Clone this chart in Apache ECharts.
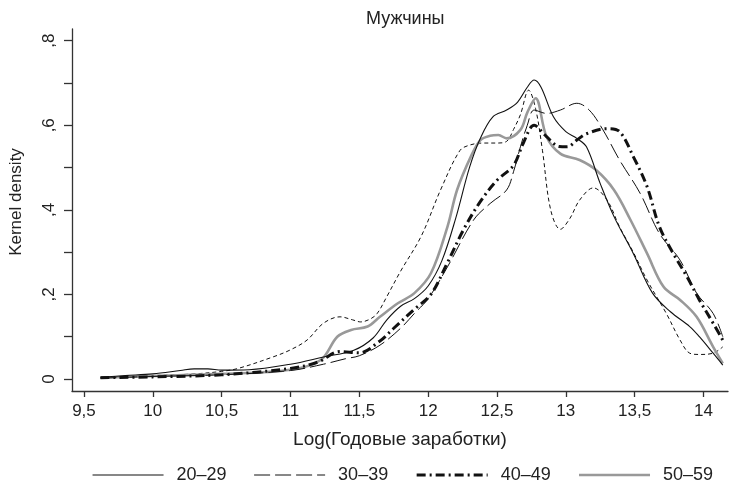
<!DOCTYPE html>
<html>
<head>
<meta charset="utf-8">
<script src="https://cdn.jsdelivr.net/npm/echarts@6/dist/echarts.min.js"></script>
<style>
  html, body { margin: 0; padding: 0; background: #fff; }
  #chart { width: 729px; height: 496px; }
</style>
</head>
<body>
<div id="chart"></div>
<script>
// Kernel density estimates of log annual earnings, men, by age group

const x2029 = [9.62, 9.8, 10.0, 10.2, 10.3, 10.4, 10.5, 10.7, 11.0, 11.24, 11.46, 11.6, 11.7, 11.8, 11.9, 12.0, 12.1, 12.2, 12.3, 12.38, 12.47, 12.57, 12.65, 12.72, 12.77, 12.82, 12.91, 13.0, 13.08, 13.15, 13.25, 13.35, 13.49, 13.63, 13.76, 13.9, 13.97, 14.07, 14.14];
const y2029 = [0.004, 0.008, 0.012, 0.02, 0.024, 0.024, 0.021, 0.022, 0.035, 0.052, 0.068, 0.097, 0.14, 0.172, 0.19, 0.22, 0.28, 0.38, 0.5, 0.57, 0.62, 0.636, 0.655, 0.69, 0.707, 0.69, 0.62, 0.585, 0.569, 0.549, 0.462, 0.384, 0.297, 0.203, 0.159, 0.124, 0.1, 0.061, 0.033];

const x3039 = [9.62, 10.0, 10.5, 11.0, 11.24, 11.4, 11.5, 11.65, 11.8, 11.9, 12.0, 12.14, 12.33, 12.45, 12.57, 12.62, 12.67, 12.72, 12.77, 12.86, 12.96, 13.08, 13.17, 13.27, 13.39, 13.54, 13.68, 13.83, 13.95, 14.07, 14.14];
const y3039 = [0.002, 0.006, 0.01, 0.02, 0.035, 0.048, 0.055, 0.08, 0.12, 0.155, 0.19, 0.265, 0.376, 0.415, 0.447, 0.49, 0.549, 0.6, 0.636, 0.628, 0.636, 0.652, 0.636, 0.589, 0.518, 0.439, 0.344, 0.281, 0.203, 0.155, 0.1];

const x4049 = [9.62, 10.0, 10.5, 11.0, 11.2, 11.36, 11.5, 11.65, 11.75, 11.9, 12.02, 12.14, 12.26, 12.38, 12.5, 12.62, 12.69, 12.77, 12.86, 12.95, 13.01, 13.08, 13.15, 13.3, 13.39, 13.49, 13.59, 13.68, 13.78, 13.88, 13.97, 14.07, 14.14];
const y4049 = [0.003, 0.005, 0.01, 0.025, 0.04, 0.065, 0.062, 0.09, 0.12, 0.165, 0.2, 0.275, 0.355, 0.42, 0.47, 0.505, 0.557, 0.6, 0.573, 0.55, 0.549, 0.565, 0.58, 0.592, 0.585, 0.526, 0.455, 0.36, 0.297, 0.242, 0.187, 0.132, 0.092];

const x5059 = [9.62, 10.0, 10.5, 11.0, 11.22, 11.34, 11.44, 11.56, 11.65, 11.78, 11.9, 12.02, 12.14, 12.21, 12.31, 12.38, 12.45, 12.51, 12.57, 12.67, 12.72, 12.78, 12.86, 12.96, 13.1, 13.22, 13.35, 13.47, 13.59, 13.71, 13.83, 13.95, 14.07, 14.14];
const y5059 = [0.003, 0.007, 0.012, 0.022, 0.045, 0.1, 0.116, 0.124, 0.147, 0.179, 0.203, 0.25, 0.36, 0.447, 0.526, 0.565, 0.575, 0.577, 0.569, 0.589, 0.63, 0.664, 0.573, 0.533, 0.518, 0.494, 0.447, 0.376, 0.297, 0.218, 0.187, 0.147, 0.076, 0.037];

// fifth curve, drawn without a legend entry
const xOther = [9.62, 10.0, 10.3, 10.5, 10.62, 10.88, 11.0, 11.12, 11.24, 11.36, 11.45, 11.51, 11.58, 11.63, 11.7, 11.8, 11.95, 12.09, 12.23, 12.3, 12.4, 12.5, 12.57, 12.62, 12.67, 12.73, 12.78, 12.83, 12.89, 12.96, 13.03, 13.1, 13.2, 13.3, 13.39, 13.49, 13.59, 13.73, 13.83, 13.9, 13.97, 14.07, 14.14];
const yOther = [0.003, 0.008, 0.012, 0.018, 0.025, 0.053, 0.069, 0.092, 0.132, 0.147, 0.14, 0.135, 0.142, 0.155, 0.195, 0.255, 0.338, 0.447, 0.54, 0.553, 0.558, 0.558, 0.562, 0.59, 0.625, 0.683, 0.64, 0.541, 0.4, 0.354, 0.38, 0.423, 0.452, 0.423, 0.36, 0.3, 0.234, 0.155, 0.092, 0.061, 0.058, 0.061, 0.076];

const groupNames = ['20–29', '30–39', '40–49', '50–59'];
const xTicks = [9.5, 10, 10.5, 11, 11.5, 12, 12.5, 13, 13.5, 14];
const yTicks = [0, 0.1, 0.2, 0.3, 0.4, 0.5, 0.6, 0.7, 0.8];
const yLabels = [0, 0.2, 0.4, 0.6, 0.8];

const FONT = 'Liberation Sans, Arial, Helvetica, sans-serif';
const INK = '#222';
const AXIS = '#333';

function pairs(xs, ys) {
  return xs.map((x, i) => [x, ys[i]]);
}
function commaNum(v) {
  if (Math.abs(v) < 1e-9) return '0';
  let s = String(Math.round(v * 100) / 100).replace('.', ',');
  if (s.startsWith('0,')) s = s.slice(1);
  return s;
}

const chart = echarts.init(document.getElementById('chart'), null, { renderer: 'canvas' });

const baseLine = { type: 'line', symbol: 'none', smooth: 0.35, animation: false };

chart.setOption({
  backgroundColor: '#fff',
  textStyle: { fontFamily: FONT, color: INK },
  title: {
    text: 'Мужчины',
    left: 361, top: 5,
    textStyle: { fontFamily: FONT, fontSize: 18, fontWeight: 'normal', color: INK }
  },
  grid: { left: 70.5, top: 29, width: 657.5, height: 362 },
  legend: {
    data: groupNames,
    left: 87, top: 461,
    itemWidth: 71, itemHeight: 12, itemGap: 27,
    itemStyle: { opacity: 0 },
    lineStyle: { width: 'inherit' },
    textStyle: { fontFamily: FONT, fontSize: 18, color: INK, padding: [0, 0, 0, 8] }
  },
  xAxis: {
    type: 'value',
    min: 9.413, max: 14.178,
    name: 'Log(Годовые заработки)',
    nameLocation: 'middle', nameGap: 39,
    nameTextStyle: { fontFamily: FONT, fontSize: 19, color: INK },
    splitLine: { show: false },
    axisLine: { show: true, onZero: false, lineStyle: { color: AXIS, width: 1.3 } },
    axisTick: { show: true, length: 6, customValues: xTicks, lineStyle: { color: AXIS, width: 1.3 } },
    axisLabel: { customValues: xTicks, margin: 12, fontFamily: FONT, fontSize: 17, color: INK, formatter: commaNum }
  },
  yAxis: {
    type: 'value',
    min: -0.0284, max: 0.8277,
    name: 'Kernel density',
    nameLocation: 'middle', nameGap: 47,
    nameTextStyle: { fontFamily: FONT, fontSize: 17, color: INK, padding: [0, 0, 0, 16] },
    splitLine: { show: false },
    axisLine: { show: true, onZero: false, lineStyle: { color: AXIS, width: 1.3 } },
    axisTick: { show: true, length: 8, customValues: yTicks, lineStyle: { color: AXIS, width: 1.3 } },
    axisLabel: { customValues: yLabels, rotate: 90, margin: 14, fontFamily: FONT, fontSize: 17, color: INK, formatter: commaNum }
  },
  series: [
    Object.assign({}, baseLine, {
      name: 'other', data: pairs(xOther, yOther),
      lineStyle: { color: '#111', width: 1, type: [4, 3] }, z: 2
    }),
    Object.assign({}, baseLine, {
      name: groupNames[3], data: pairs(x5059, y5059),
      lineStyle: { color: '#999', width: 2.6, type: 'solid' }, itemStyle: { color: '#999' }, z: 3
    }),
    Object.assign({}, baseLine, {
      name: groupNames[1], data: pairs(x3039, y3039),
      lineStyle: { color: '#111', width: 1, type: [16, 5] }, itemStyle: { color: '#111' }, z: 4
    }),
    Object.assign({}, baseLine, {
      name: groupNames[2], data: pairs(x4049, y4049),
      lineStyle: { color: '#111', width: 3, type: [9, 4, 2, 4] }, itemStyle: { color: '#111' }, z: 5
    }),
    Object.assign({}, baseLine, {
      name: groupNames[0], data: pairs(x2029, y2029),
      lineStyle: { color: '#111', width: 1.1, type: 'solid' }, itemStyle: { color: '#111' }, z: 6
    })
  ]
});
</script>
</body>
</html>
